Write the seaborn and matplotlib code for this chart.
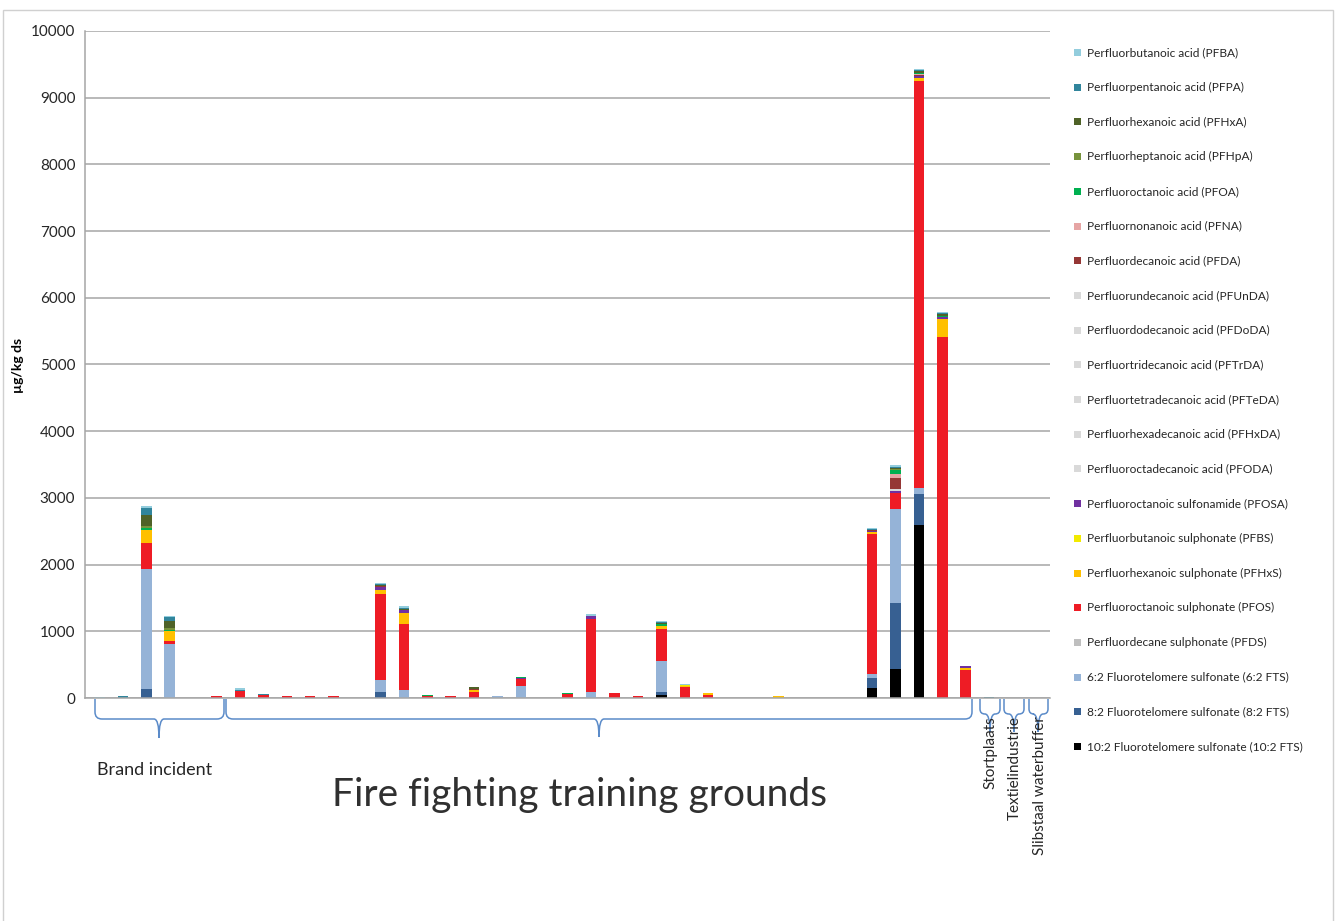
import numpy as np
import pandas as pd
import matplotlib
matplotlib.use("Agg")
import matplotlib.pyplot as plt
import seaborn as sns
from matplotlib.path import Path
from matplotlib.patches import PathPatch, Rectangle
from matplotlib.transforms import Affine2D

# ---------------- data ----------------
N_SITES = 41
compounds = [
    "Perfluorbutanoic acid (PFBA)",
    "Perfluorpentanoic acid (PFPA)",
    "Perfluorhexanoic acid (PFHxA)",
    "Perfluorheptanoic acid (PFHpA)",
    "Perfluoroctanoic acid (PFOA)",
    "Perfluornonanoic acid (PFNA)",
    "Perfluordecanoic acid (PFDA)",
    "Perfluorundecanoic acid (PFUnDA)",
    "Perfluordodecanoic acid (PFDoDA)",
    "Perfluortridecanoic acid (PFTrDA)",
    "Perfluortetradecanoic acid (PFTeDA)",
    "Perfluorhexadecanoic acid (PFHxDA)",
    "Perfluoroctadecanoic acid (PFODA)",
    "Perfluoroctanoic sulfonamide (PFOSA)",
    "Perfluorbutanoic sulphonate (PFBS)",
    "Perfluorhexanoic sulphonate (PFHxS)",
    "Perfluoroctanoic sulphonate (PFOS)",
    "Perfluordecane sulphonate (PFDS)",
    "6:2 Fluorotelomere sulfonate (6:2 FTS)",
    "8:2 Fluorotelomere sulfonate (8:2 FTS)",
    "10:2 Fluorotelomere sulfonate (10:2 FTS)",
]
colors = [
    "#93CDDD", "#31859C", "#4F6228", "#77933C", "#00B050", "#E6A5A4",
    "#953735", "#D9D9D9", "#D9D9D9", "#D9D9D9", "#D9D9D9", "#D9D9D9",
    "#D9D9D9", "#7030A0", "#F2EA00", "#FFC000", "#EE1C25", "#BFBFBF",
    "#95B3D7", "#376092", "#000000",
]

# values in µg/kg ds, per compound: {site index: value}
PFBA   = {0: 15, 1: 10, 2: 25, 3: 25, 5: 5, 6: 25, 12: 15, 13: 20, 21: 35, 24: 10,
          25: 15, 33: 20, 34: 20, 35: 15, 36: 15}
PFPA   = {1: 25, 2: 100, 3: 55, 6: 15, 7: 20, 12: 10, 13: 20, 24: 10, 33: 10,
          34: 15, 35: 15, 36: 15, 38: 15}
PFHxA  = {2: 165, 3: 110, 12: 10, 13: 10, 16: 20, 24: 15, 34: 15, 35: 20, 36: 25}
PFHpA  = {2: 35, 3: 20, 12: 10, 16: 10, 24: 10, 34: 20, 35: 10, 36: 10}
PFOA   = {2: 25, 3: 15, 14: 15, 18: 20, 20: 20, 24: 20, 34: 65, 35: 10, 36: 10}
PFNA   = {34: 60, 35: 15}
PFDA   = {12: 10, 14: 10, 16: 15, 33: 20, 34: 155, 35: 15}
PFUnDA = {34: 20}
PFDoDA = {34: 20}
PFTrDA = {}
PFTeDA = {}
PFHxDA = {}
PFODA  = {}
PFOSA  = {12: 40, 13: 50, 18: 15, 21: 35, 33: 20, 34: 20, 35: 35, 36: 30, 37: 20}
PFBS   = {3: 10, 24: 10, 25: 10, 29: 10}
PFHxS  = {2: 200, 3: 150, 12: 60, 13: 165, 16: 25, 24: 35, 25: 25, 26: 20, 29: 25,
          33: 20, 35: 35, 36: 270, 37: 30}
PFOS   = {2: 390, 3: 40, 5: 30, 6: 110, 7: 45, 8: 25, 9: 25, 10: 25, 12: 1300,
          13: 985, 14: 25, 15: 25, 16: 90, 18: 100, 20: 55, 21: 1095, 22: 75,
          23: 35, 24: 490, 25: 160, 26: 50, 33: 2100, 34: 250, 35: 6100,
          36: 5410, 37: 425}
PFDS   = {40: 10}
FTS62  = {2: 1795, 3: 810, 12: 175, 13: 125, 17: 35, 18: 185, 21: 95, 24: 455,
          33: 60, 34: 1400, 35: 90}
FTS82  = {2: 140, 12: 90, 24: 55, 33: 150, 34: 995, 35: 465}
FTS102 = {24: 40, 33: 155, 34: 435, 35: 2600}

series = [PFBA, PFPA, PFHxA, PFHpA, PFOA, PFNA, PFDA, PFUnDA, PFDoDA, PFTrDA,
          PFTeDA, PFHxDA, PFODA, PFOSA, PFBS, PFHxS, PFOS, PFDS, FTS62, FTS82, FTS102]

groups = ["Brand incident", "Fire fighting training grounds", "Stortplaats",
          "Textielindustrie", "Slibstaal waterbuffer"]
y_ticks = list(range(0, 10001, 1000))

rows = []
for name, s in zip(compounds, series):
    for site in range(N_SITES):
        rows.append({"site": site, "compound": name, "value": float(s.get(site, 0))})
df = pd.DataFrame(rows)

# ---------------- figure ----------------
W, H = 1343, 921
sns.set_style("white")
plt.rcParams["font.family"] = ["Lato", "DejaVu Sans"]
fig = plt.figure(figsize=(W / 100, H / 100), dpi=100)
fig.patch.set_facecolor("white")

ax_left, ax_right, ax_top, ax_bot = 85, 1050, 31, 698
ax = fig.add_axes([ax_left / W, 1 - ax_bot / H, (ax_right - ax_left) / W,
                   (ax_bot - ax_top) / H])

sns.histplot(data=df, x="site", weights="value", hue="compound",
             hue_order=compounds, palette=dict(zip(compounds, colors)),
             multiple="stack", discrete=True, shrink=0.45, alpha=1,
             edgecolor="none", linewidth=0, legend=False, ax=ax)

ax.set_xlim(-0.62, 40.6)
ax.set_ylim(0, 10000)
ax.set_yticks(y_ticks)
ax.set_yticklabels([str(t) for t in y_ticks], fontsize=11, color="#262626")
ax.set_xticks([])
ax.set_xlabel("")
ax.set_ylabel("")
ax.yaxis.grid(True, color="#A6A6A6", linewidth=1.1)
ax.set_axisbelow(True)
for sp in ["top", "right"]:
    ax.spines[sp].set_visible(False)
for sp in ["left", "bottom"]:
    ax.spines[sp].set_color("#A6A6A6")
    ax.spines[sp].set_linewidth(1.1)
ax.tick_params(axis="y", length=4, color="#A6A6A6", pad=3)

# pixel-coordinate transform for annotations
pxt = Affine2D().scale(1 / W, -1 / H).translate(0, 1) + fig.transFigure

fig.text(18 / W, 1 - 365 / H, "µg/kg ds", rotation=90, fontsize=10,
         fontweight="bold", ha="center", va="center", color="#000000")

# outer frame
frame = Path([(3, 925), (3, 10), (1333, 10), (1333, 925)],
             [Path.MOVETO, Path.LINETO, Path.LINETO, Path.LINETO])
fig.patches.append(PathPatch(frame, transform=pxt, fill=False,
                             edgecolor="#D0D0D0", linewidth=1.0))


def brace(x0, x1, xt, yt, yh, yb, r):
    verts = [(x0, yt), (x0, yh - r), (x0, yh), (x0 + r, yh), (xt - 5, yh),
             (xt, yh), (xt, yb), (xt, yh), (xt + 5, yh), (x1 - r, yh),
             (x1, yh), (x1, yh - r), (x1, yt)]
    codes = [Path.MOVETO, Path.LINETO, Path.CURVE3, Path.CURVE3, Path.LINETO,
             Path.CURVE3, Path.CURVE3, Path.CURVE3, Path.CURVE3, Path.LINETO,
             Path.CURVE3, Path.CURVE3, Path.LINETO]
    fig.patches.append(PathPatch(Path(verts, codes), transform=pxt, fill=False,
                                 edgecolor="#5B8BC9", linewidth=1.1))


brace(95, 224, 159, 699, 719, 738, 7)
brace(226, 972, 599, 699, 719, 737, 7)
brace(980, 1000, 990, 699, 714, 732, 5)
brace(1004, 1024, 1014, 699, 714, 732, 5)
brace(1029, 1048, 1038, 699, 714, 732, 5)

fig.text(97 / W, 1 - 770 / H, groups[0], fontsize=13, ha="left",
         va="center", color="#262626")
fig.text(580 / W, 1 - 795 / H, groups[1], fontsize=28, ha="center",
         va="center", color="#303030")
for gx, g in zip([990, 1015, 1040], groups[2:]):
    fig.text(gx / W, 1 - 716 / H, g, fontsize=11, rotation=90, ha="center",
             va="top", color="#262626")

# legend (manual layout, Excel-like)
for i, (name, col) in enumerate(zip(compounds, colors)):
    yc = 52.5 + i * 34.7
    fig.patches.append(Rectangle((1074, yc - 3.5), 7, 7, transform=pxt,
                                 facecolor=col, edgecolor="none"))
    fig.text(1087 / W, 1 - yc / H, name, fontsize=8.6, ha="left", va="center",
             color="#262626")

fig.savefig("out.png", dpi=100, facecolor="white")
